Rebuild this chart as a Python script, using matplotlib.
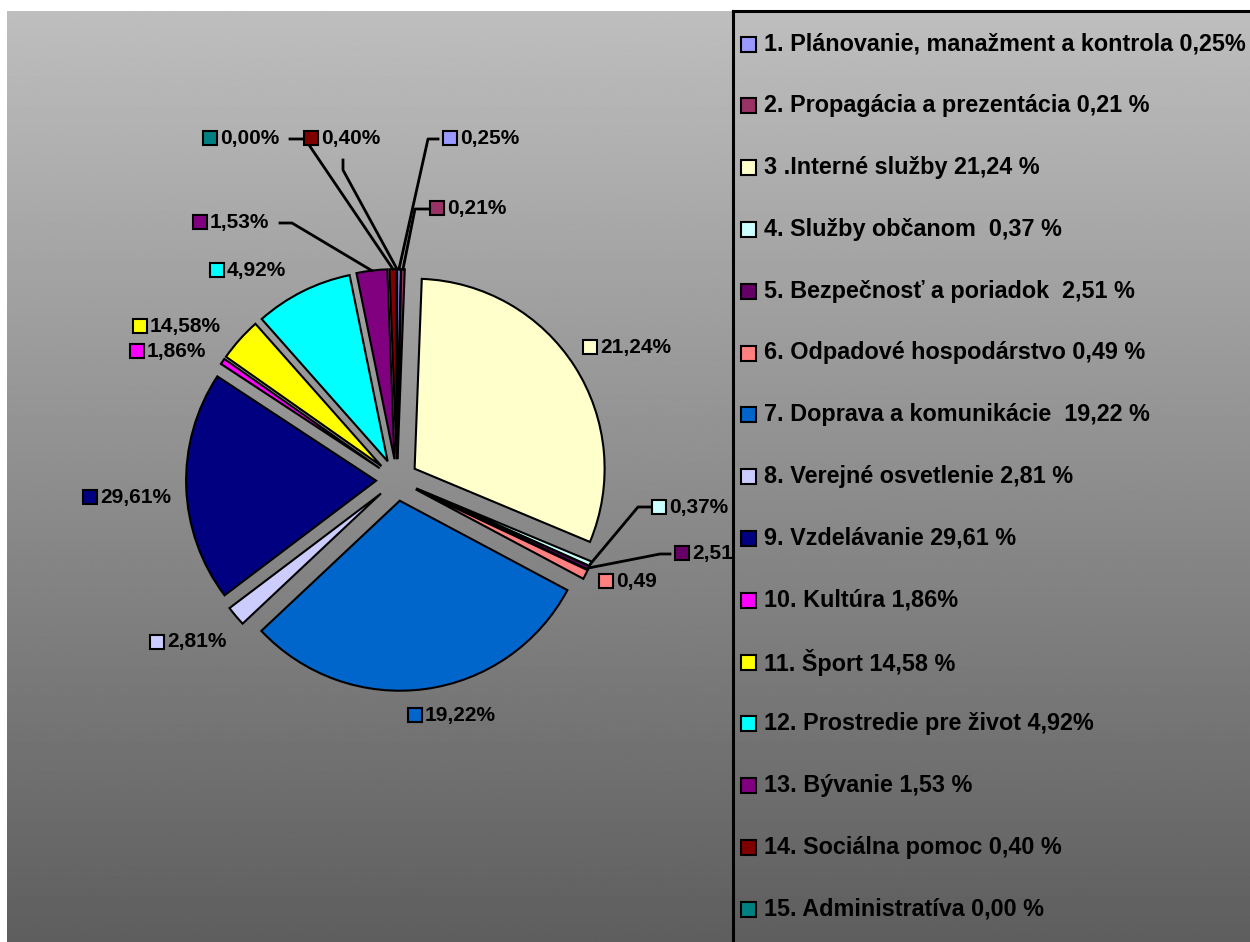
import matplotlib
matplotlib.use("Agg")
import matplotlib.pyplot as plt
import numpy as np
from matplotlib.patches import Rectangle

plt.rcParams['font.family'] = ['Liberation Sans', 'DejaVu Sans']
plt.rcParams['font.weight'] = 'bold'

# slice sizes as they are drawn in the picture (% of the circle)
slice_sizes = [0.3, 0.3, 30.6, 0.4, 0.3, 0.8, 30.1, 1.7, 19.5, 0.5, 3.7, 8.3, 2.6, 0.6, 0.0]
# percentage labels printed next to the slices
slice_labels = ['0,25%', '0,21%', '21,24%', '0,37%', '2,51', '0,49', '19,22%', '2,81%',
                '29,61%', '1,86%', '14,58%', '4,92%', '1,53%', '0,40%', '0,00%']
legend_labels = [
    '1. Plánovanie, manažment a kontrola 0,25%',
    '2. Propagácia a prezentácia 0,21 %',
    '3 .Interné služby 21,24 %',
    '4. Služby občanom  0,37 %',
    '5. Bezpečnosť a poriadok  2,51 %',
    '6. Odpadové hospodárstvo 0,49 %',
    '7. Doprava a komunikácie  19,22 %',
    '8. Verejné osvetlenie 2,81 %',
    '9. Vzdelávanie 29,61 %',
    '10. Kultúra 1,86%',
    '11. Šport 14,58 %',
    '12. Prostredie pre život 4,92%',
    '13. Bývanie 1,53 %',
    '14. Sociálna pomoc 0,40 %',
    '15. Administratíva 0,00 %',
]
colors = ['#9999FF', '#993366', '#FFFFCC', '#CCFFFF', '#660066', '#FF8080', '#0066CC',
          '#CCCCFF', '#000080', '#FF00FF', '#FFFF00', '#00FFFF', '#800080', '#800000', '#008080']

# layout in pixels
W, H = 1250, 942
CX, CY, R = 397, 480, 190
EXPLODE = 0.11

# label square centres (px) and leader line start points (px)
label_pos = [(450, 138), (437, 208), (590, 347), (659, 507), (682, 553), (606, 581),
             (415, 715), (157, 642), (90, 497), (137, 351), (140, 326), (217, 270),
             (200, 222), (311, 138), (210, 138)]
leaders = {0: [(438, 139), (428, 139)], 1: [(429, 209), (415, 209)],
           3: [(650, 507), (638, 507)], 4: [(670, 554), (660, 554)],
           12: [(280, 223), (292, 223)], 13: [(290, 139), (305, 139)],
           14: [(343, 160), (343, 170)]}


def px2d(p):
    return ((p[0] - CX) / R, (CY - p[1]) / R)


fig = plt.figure(figsize=(W / 100, H / 100), dpi=100)
grad = np.linspace(190, 94, 512).reshape(-1, 1)

# gradient background
bg = fig.add_axes([7 / W, 0, 1 - 7 / W, (H - 11) / H])
bg.imshow(grad, cmap='gray', vmin=0, vmax=255, aspect='auto', interpolation='bilinear')
bg.axis('off')

# pie
ax = fig.add_axes([(CX - 300) / W, (H - CY - 300) / H, 600 / W, 600 / H])
wedges, _ = ax.pie(slice_sizes, colors=colors, startangle=90, counterclock=False,
                   explode=[EXPLODE] * len(slice_sizes),
                   wedgeprops=dict(edgecolor='black', linewidth=1.5))
ax.set_xlim(-300 / R, 300 / R)
ax.set_ylim(-300 / R, 300 / R)
ax.set_aspect('equal')
ax.axis('off')

for i, w in enumerate(wedges):
    th = np.deg2rad((w.theta1 + w.theta2) / 2)
    anchor = ((1 + EXPLODE) * np.cos(th), (1 + EXPLODE) * np.sin(th))
    if i in leaders:
        pts = [px2d(p) for p in leaders[i]] + [anchor]
        xs, ys = zip(*pts)
        ax.plot(xs, ys, color='black', lw=2, clip_on=False)
    x, y = px2d(label_pos[i])
    ax.plot(x, y, marker='s', ms=9.5, mfc=colors[i], mec='black', mew=1.5, clip_on=False)
    ax.text(x + 10 / R, y, slice_labels[i], fontsize=15, fontweight='bold',
            va='center', ha='left')

# legend box
lg = fig.add_axes([733 / W, 0, (W - 733) / W, (H - 11) / H])
lg.imshow(grad, cmap='gray', vmin=0, vmax=255, aspect='auto', interpolation='bilinear',
          extent=[0, W - 733, H - 11, 0])
lg.set_xlim(0, W - 733)
lg.set_ylim(H - 11, 0)
lg.set_xticks([])
lg.set_yticks([])
for s in ['right', 'bottom']:
    lg.spines[s].set_visible(False)
for s in ['left', 'top']:
    lg.spines[s].set_linewidth(2.2)

for i, lab in enumerate(legend_labels):
    yc = 33 + i * 61.8
    lg.add_patch(Rectangle((8, yc - 7.5), 15, 15, facecolor=colors[i], edgecolor='black', lw=1.5))
    lg.text(31, yc, lab, fontsize=16.8, fontweight='bold', va='center', ha='left')

fig.savefig('out.png', dpi=100)
